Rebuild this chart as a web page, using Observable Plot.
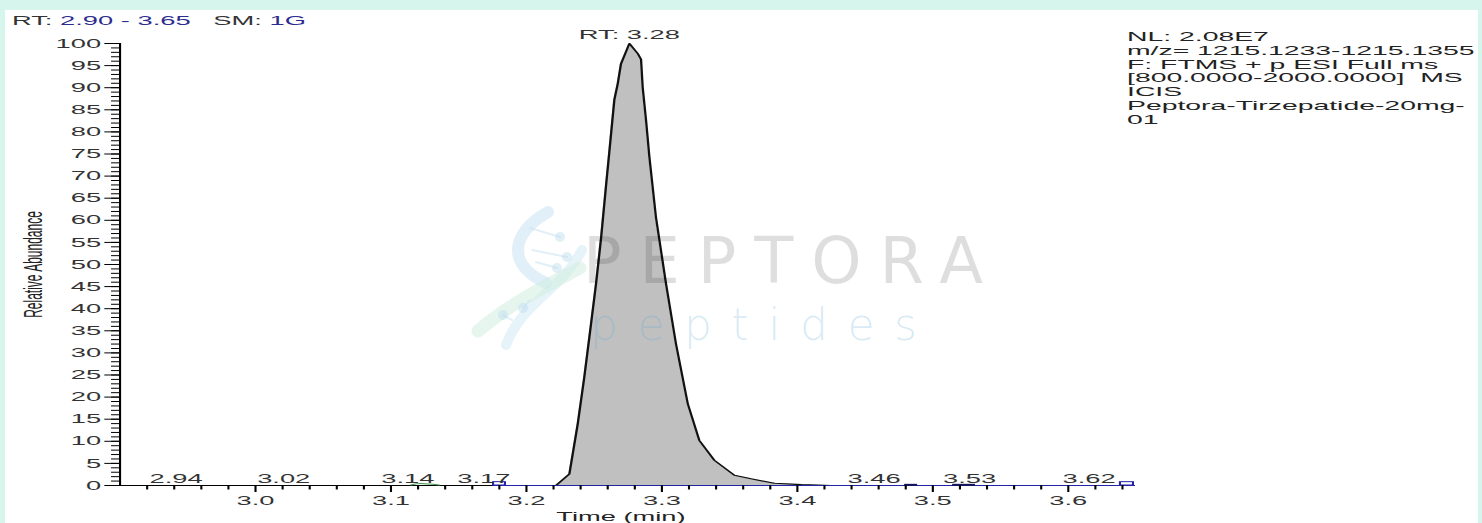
<!DOCTYPE html>
<html>
<head>
<meta charset="utf-8">
<script src="https://cdn.jsdelivr.net/npm/d3@7"></script>
<script src="https://cdn.jsdelivr.net/npm/@observablehq/plot@0.6"></script>
<style>
  html, body { margin:0; padding:0; width:1482px; height:523px; overflow:hidden; background:#d6f6ed; }
  #frame { position:absolute; left:5px; top:10px; width:1473px; height:513px; background:#ffffff; }
  #chart { position:absolute; left:0; top:0; }
  .txt { position:absolute; font-family:"Liberation Sans", Arial, sans-serif; white-space:pre; transform-origin:0 0; transform:scaleX(2.1); }
  #hdr { left:12px; top:14px; font-size:13px; line-height:14px; color:#333; }
  #hdr .v { color:#2c2c8e; }
  #info { left:1127px; top:30px; font-size:13.5px; line-height:13.8px; color:#222; }
  #wm { position:absolute; left:0; top:0; pointer-events:none; }
</style>
</head>
<body>
<div id="frame"></div>
<div id="chart"></div>
<div id="hdr" class="txt"></div>
<div id="info" class="txt"></div>
<svg id="wm" width="1482" height="523">
  <g fill="none" stroke-linecap="round">
    <path d="M548 212 C512 232, 505 264, 546 283" stroke="#c4e2f2" stroke-width="12" opacity="0.5"/>
    <path d="M582 250 C560 292, 522 302, 506 345" stroke="#cde7f4" stroke-width="10" opacity="0.5"/>
    <path d="M478 331 C512 302, 546 286, 580 268" stroke="#cdeede" stroke-width="13" opacity="0.5"/>
    <path d="M530 228 L560 237 M532 250 L567 257 M536 262 L557 268 M512 320 L503 315 M530 300 L523 308" stroke="#c9e3f1" stroke-width="2" opacity="0.55"/>
  </g>
  <g fill="#bddcef" opacity="0.45">
    <circle cx="560" cy="237" r="5"/><circle cx="567" cy="257" r="5"/><circle cx="557" cy="268" r="5"/>
    <circle cx="503" cy="315" r="5"/><circle cx="523" cy="308" r="5"/>
  </g>
  <text x="583" y="283" font-family="'DejaVu Sans', sans-serif" font-weight="400" font-size="64" textLength="400" lengthAdjust="spacing" fill="#000" fill-opacity="0.13">PEPTORA</text>
  <text x="590" y="340" font-family="'DejaVu Sans', sans-serif" font-weight="200" font-size="44" textLength="327" lengthAdjust="spacing" fill="#5aa8d8" fill-opacity="0.24">peptides</text>
</svg>
<script>
// ---- data ----
const xDomain = [2.90, 3.65];
const yDomain = [0, 100];
const rtRangeText = "2.90 - 3.65";
const smoothText = "1G";
const infoLines = [
  "NL: 2.08E7",
  "m/z= 1215.1233-1215.1355",
  "F: FTMS + p ESI Full ms",
  "[800.0000-2000.0000]  MS",
  "ICIS",
  "Peptora-Tirzepatide-20mg-",
  "01"
];
const traceRT = [3.2218, 3.2317, 3.2379, 3.2427, 3.2477, 3.2514, 3.2551, 3.2588, 3.2612, 3.2649,
                 3.2674, 3.2698, 3.2760, 3.2822, 3.2846, 3.2858, 3.2883, 3.2907, 3.2956, 3.3030,
                 3.3104, 3.3191, 3.3276, 3.3387, 3.3535, 3.3658, 3.3830, 3.4030, 3.4250];
const traceAbund = [0, 2.6, 14, 24.5, 36.6, 45.7, 56, 68, 75.5, 87.3,
                    90.9, 95.4, 100, 97.7, 96.4, 90.1, 82.6, 74.5, 60.7, 45.7,
                    32, 18.5, 10.2, 5.7, 2.3, 1.5, 0.5, 0.2, 0];
const apexRT = 3.276;
const apexLabel = "RT: 3.28";
const peakLabelText = ["2.94", "3.02", "3.14", "3.17", "3.46", "3.53", "3.62"];
const peakLabelRT = [2.9413, 3.0208, 3.1124, 3.1685, 3.4566, 3.5271, 3.6153];
const markerStart = [3.1761, 3.6389];
const markerEnd = [3.1849, 3.6485];
const blueBaseline = [3.1761, 3.65];
const greenBumpRT = [3.1148, 3.1220, 3.1354];
const greenBumpAbund = [0.1, 0.45, 0.1];
const darkSegStart = [3.4796, 3.5150];
const darkSegEnd = [3.4892, 3.5319];
const yMajorTicks = [0, 5, 10, 15, 20, 25, 30, 35, 40, 45, 50, 55, 60, 65, 70, 75, 80, 85, 90, 95, 100];
const yMinorTicks = d3.range(0, 101, 1);
const xMajorTicks = [3.0, 3.1, 3.2, 3.3, 3.4, 3.5, 3.6];
const xMinorTicks = [2.92, 2.94, 2.96, 2.98, 3.02, 3.04, 3.06, 3.08, 3.12, 3.14, 3.16, 3.18,
                     3.22, 3.24, 3.26, 3.28, 3.32, 3.34, 3.36, 3.38, 3.42, 3.44, 3.46, 3.48,
                     3.52, 3.54, 3.56, 3.58, 3.62, 3.64];

// ---- header / info text ----
document.getElementById("hdr").innerHTML =
  'RT: <span class="v">' + rtRangeText + '</span>   SM: <span class="v">' + smoothText + '</span>';
document.getElementById("info").textContent = infoLines.join("\n");

// ---- tables ----
const trace = traceRT.map((t, i) => ({t, a: traceAbund[i]}));
const labels = peakLabelText.map((s, i) => ({t: peakLabelRT[i], s}));
const markers = markerStart.map((s, i) => ({x1: s, x2: markerEnd[i]}));
const green = greenBumpRT.map((t, i) => ({t, a: greenBumpAbund[i]}));
const darkSegs = darkSegStart.map((s, i) => ({x1: s, x2: darkSegEnd[i]}));

const S = 2.1;             // horizontal stretch of the original screenshot
const W = 1482 / S;
const left = 119 / S, right = 1135 / S;

const chart = Plot.plot({
  width: W,
  height: 523,
  marginLeft: left,
  marginRight: W - right,
  marginTop: 43,
  marginBottom: 38,
  x: {domain: xDomain},
  y: {domain: yDomain},
  style: {background: "transparent", fontFamily: '"Liberation Sans", Arial, sans-serif', fontSize: "13px", color: "#222", overflow: "visible"},
  marks: [
    Plot.areaY(trace, {x: "t", y: "a", fill: "#c0c0c0"}),
    Plot.lineY(trace, {x: "t", y: "a", stroke: "#111", strokeWidth: 1.1}),
    Plot.ruleY([0], {x1: xDomain[0], x2: xDomain[1], stroke: "#000", strokeWidth: 1.2}),
    Plot.ruleY([0], {x1: blueBaseline[0], x2: blueBaseline[1], stroke: "#2323a8", strokeWidth: 1.2}),
    Plot.lineY(green, {x: "t", y: "a", stroke: "#3c9a48", strokeWidth: 1, curve: "natural"}),
    Plot.ruleY(darkSegs, {y: 0.15, x1: "x1", x2: "x2", stroke: "#14145a", strokeWidth: 2}),
    Plot.rect(markers, {x1: "x1", x2: "x2", y1: 0, y2: 0.75, fill: "#ffffff", stroke: "#2323a8", strokeWidth: 1}),
    Plot.ruleX([xDomain[0]], {y1: yDomain[0], y2: yDomain[1], stroke: "#000", strokeWidth: 1}),
    Plot.axisY(yMinorTicks, {tickSize: 3.8, tickFormat: () => "", label: null, stroke: "#000"}),
    Plot.axisY(yMajorTicks, {tickSize: 7, tickPadding: 2, label: null, stroke: "#000", fill: "#333"}),
    Plot.axisX(xMinorTicks, {tickSize: 4.5, tickFormat: () => "", label: null, stroke: "#000"}),
    Plot.axisX(xMajorTicks, {tickSize: 7, tickPadding: 3.5, tickFormat: d => d.toFixed(1), label: null, stroke: "#000", fill: "#333"}),
    Plot.text(labels, {x: "t", y: 0, text: "s", dy: -7, lineAnchor: "middle", fill: "#333"}),
    Plot.text([apexLabel], {x: apexRT, y: 100, dy: -9, lineAnchor: "middle", fill: "#333"}),
    Plot.text(["Relative Abundance"], {frameAnchor: "left", dx: -41, rotate: -90, textAnchor: "middle", fontSize: 12, fill: "#222"}),
    Plot.text(["Time (min)"], {frameAnchor: "bottom", dx: -3.4, dy: 31, lineAnchor: "middle", fill: "#222"})
  ]
});
chart.style.transform = `scale(${S},1)`;
chart.style.transformOrigin = "0 0";
chart.style.background = "transparent";
document.getElementById("chart").appendChild(chart);
</script>
</body>
</html>
